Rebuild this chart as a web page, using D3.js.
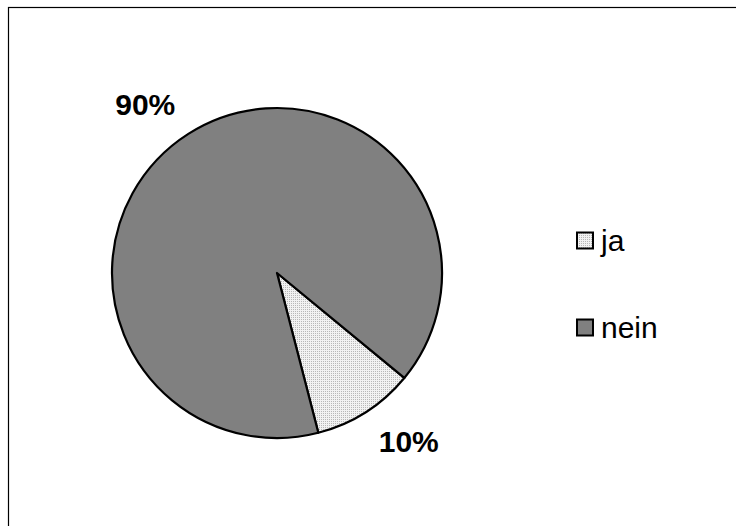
<!DOCTYPE html>
<html>
<head>
<meta charset="utf-8">
<script src="https://cdn.jsdelivr.net/npm/d3@7"></script>
<style>
  html, body { margin: 0; padding: 0; background: #fff; }
  svg { display: block; font-family: Arial, "Liberation Sans", sans-serif; }
</style>
</head>
<body>
<svg id="chart" width="736" height="526"></svg>
<script>
// Survey answers (share of respondents)
const categories = ["ja", "nein"];
const values = [10, 90];
const labels = ["10%", "90%"];

const width = 736, height = 526;
const svg = d3.select("#chart");

// Fine dotted fill for the "ja" slice
const defs = svg.append("defs");
const pat = defs.append("pattern")
  .attr("id", "dots")
  .attr("patternUnits", "userSpaceOnUse")
  .attr("width", 2).attr("height", 2);
pat.append("rect").attr("width", 2).attr("height", 2).attr("fill", "#f2f2f2");
pat.append("rect").attr("x", 0).attr("y", 0).attr("width", 1).attr("height", 1).attr("fill", "#b8b8b8");

// Chart area frame
svg.append("rect")
  .attr("x", 8.5).attr("y", 7.5)
  .attr("width", width).attr("height", height)
  .attr("fill", "#fff")
  .attr("stroke", "#000").attr("stroke-width", 1.2);

const cx = 277, cy = 273, radius = 165;
const startDeg = 129.5;
const toRad = d => d * Math.PI / 180;

const color = d3.scaleOrdinal()
  .domain(categories)
  .range(["url(#dots)", "#808080"]);

const pie = d3.pie()
  .sort(null)
  .value(d => d.value)
  .startAngle(toRad(startDeg))
  .endAngle(toRad(startDeg) + 2 * Math.PI);

const data = categories.map((c, i) => ({ cat: c, value: values[i], label: labels[i] }));
const arcs = pie(data);

const arc = d3.arc().innerRadius(0).outerRadius(radius);

const g = svg.append("g").attr("transform", `translate(${cx},${cy})`);

g.selectAll("path.slice")
  .data(arcs)
  .join("path")
  .attr("class", "slice")
  .attr("d", arc)
  .attr("fill", d => color(d.data.cat))
  .attr("stroke", "#000")
  .attr("stroke-width", 2.2)
  .attr("stroke-linejoin", "round");

// Percentage labels outside the slices
const labelRadius = 214;
const labelTurn = toRad(-5.5);
g.selectAll("text.pct")
  .data(arcs)
  .join("text")
  .attr("class", "pct")
  .attr("x", d => labelRadius * Math.sin((d.startAngle + d.endAngle) / 2 + labelTurn))
  .attr("y", d => -labelRadius * Math.cos((d.startAngle + d.endAngle) / 2 + labelTurn))
  .attr("text-anchor", "middle")
  .attr("dy", "0.36em")
  .attr("font-size", 30)
  .attr("font-weight", "bold")
  .attr("fill", "#000")
  .text(d => d.data.label);

// Legend
const legendY = d3.scalePoint().domain(categories).range([241, 328]);
const legend = svg.append("g");
const item = legend.selectAll("g")
  .data(categories)
  .join("g")
  .attr("transform", d => `translate(577,${legendY(d)})`);

item.append("rect")
  .attr("x", 0).attr("y", -8.5)
  .attr("width", 16).attr("height", 16)
  .attr("fill", d => color(d))
  .attr("stroke", "#000").attr("stroke-width", 2);

item.append("text")
  .attr("x", 24).attr("y", 10)
  .attr("font-size", 30)
  .attr("fill", "#000")
  .text(d => d);
</script>
</body>
</html>
